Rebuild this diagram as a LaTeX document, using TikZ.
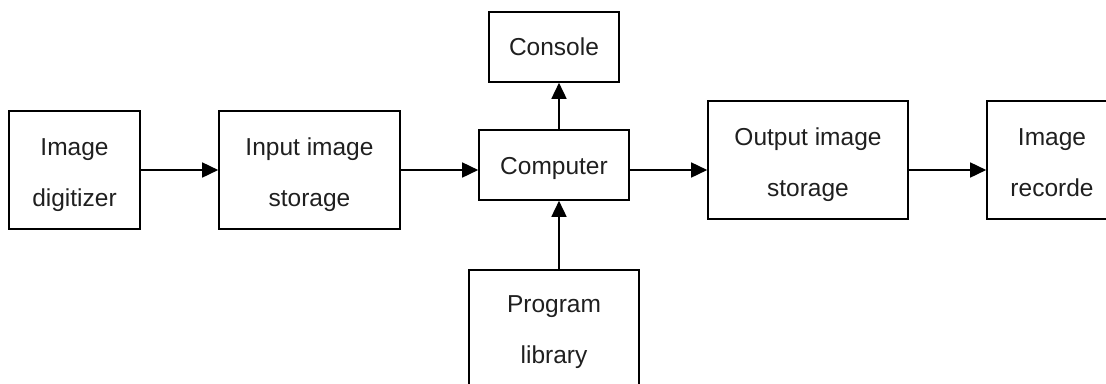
\documentclass[tikz,border=0pt]{standalone}
\usepackage{fontspec}
\setmainfont{Liberation Sans}
\usetikzlibrary{arrows.meta}
\newcommand\twolines[2]{\raisebox{-0.5pt}[\height][\depth]{\begin{tabular}{@{}c@{}}#1\\#2\end{tabular}}}
\begin{document}
\begin{tikzpicture}[x=1pt,y=-1pt,
  blk/.style={draw=black,line width=1.6pt,inner sep=0pt,align=center,
    font=\fontsize{24.5}{51}\selectfont,text=black!88},
  arr/.style={line width=1.6pt,-{Triangle[length=16pt,width=15pt]}}]
\useasboundingbox (0,0) rectangle (1106,383);
\clip (0,0) rectangle (1106,383);
\node[blk,minimum width=131pt,minimum height=118pt] (dig) at (74.5,170) {\twolines{Image}{digitizer}};
\node[blk,minimum width=181pt,minimum height=118pt] (inp) at (309.5,170) {\twolines{Input image}{storage}};
\node[blk,minimum width=150pt,minimum height=70pt] (comp) at (554,165) {\raisebox{-3pt}[\height][\depth]{Computer}};
\node[blk,minimum width=130pt,minimum height=70pt] (con) at (554,47) {Console};
\node[blk,minimum width=200pt,minimum height=118pt] (out) at (808,160) {\twolines{Output image}{storage}};
\node[blk,minimum width=130pt,minimum height=118pt] (rec) at (1052,160) {\twolines{Image}{recorde}};
\node[blk,minimum width=170pt,minimum height=124pt] (prog) at (554,332) {\raisebox{5pt}[\height][\depth]{\twolines{Program}{library}}};
\draw[arr] (dig.east) -- (inp.west);
\draw[arr] (inp.east) -- (inp.east -| comp.west);
\draw[arr] (comp.east |- inp.east) -- (out.west |- inp.east);
\draw[arr] (out.east |- inp.east) -- (rec.west |- inp.east);
\draw[arr] ([xshift=5pt]comp.north) -- ([xshift=5pt]con.south);
\draw[arr] ([xshift=5pt]prog.north) -- ([xshift=5pt]comp.south);
\end{tikzpicture}
\end{document}
